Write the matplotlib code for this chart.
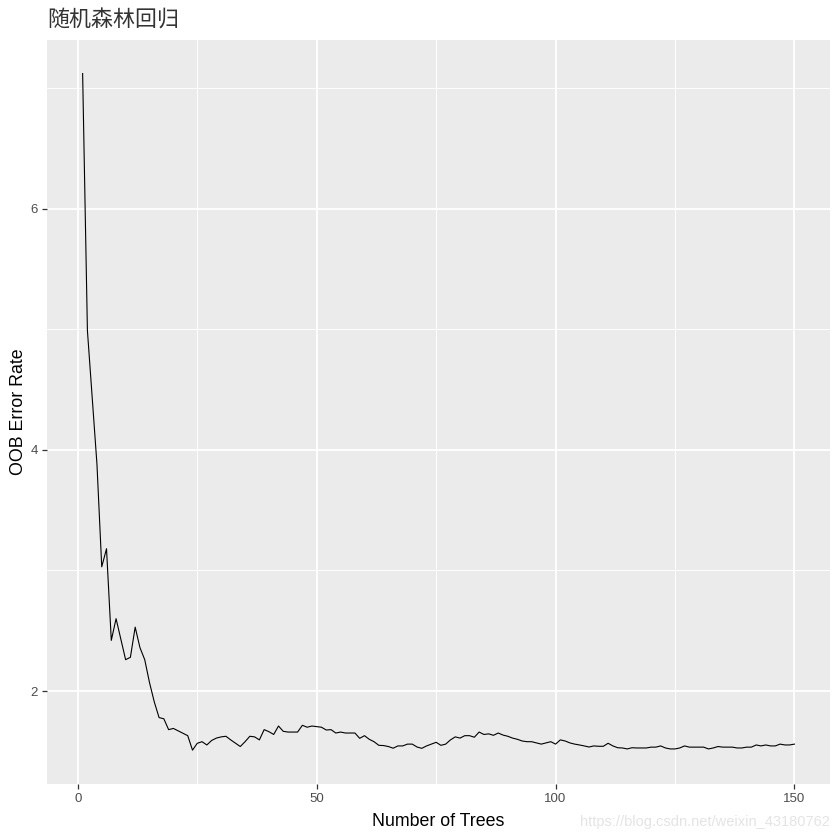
import matplotlib
matplotlib.use("Agg")
import matplotlib.pyplot as plt
from matplotlib.ticker import MultipleLocator
import numpy as np

plt.rcParams['font.family'] = ['Liberation Sans', 'Noto Sans CJK SC', 'DejaVu Sans']

trees = list(range(1, 151))
oob_error = [
    7.12, 4.99, 4.43, 3.88, 3.03, 3.18, 2.42, 2.60, 2.43, 2.26,
    2.28, 2.53, 2.36, 2.26, 2.07, 1.91, 1.78, 1.77, 1.68, 1.69,
    1.67, 1.65, 1.63, 1.51, 1.567, 1.58, 1.553, 1.59, 1.61, 1.62,
    1.625, 1.595, 1.567, 1.54, 1.58, 1.625, 1.62, 1.595, 1.68, 1.663,
    1.64, 1.71, 1.666, 1.66, 1.66, 1.66, 1.716, 1.70, 1.71, 1.705,
    1.70, 1.677, 1.68, 1.652, 1.66, 1.652, 1.652, 1.652, 1.608, 1.63,
    1.60, 1.58, 1.55, 1.548, 1.54, 1.526, 1.545, 1.545, 1.56, 1.56,
    1.536, 1.525, 1.545, 1.56, 1.575, 1.55, 1.56, 1.595, 1.62, 1.61,
    1.63, 1.63, 1.617, 1.66, 1.64, 1.645, 1.633, 1.652, 1.635, 1.625,
    1.61, 1.60, 1.586, 1.58, 1.58, 1.57, 1.56, 1.57, 1.58, 1.56,
    1.595, 1.586, 1.57, 1.56, 1.553, 1.545, 1.536, 1.545, 1.542, 1.542,
    1.567, 1.545, 1.53, 1.528, 1.52, 1.53, 1.528, 1.528, 1.528, 1.535,
    1.535, 1.545, 1.528, 1.52, 1.52, 1.528, 1.545, 1.535, 1.535, 1.535,
    1.535, 1.52, 1.528, 1.54, 1.535, 1.535, 1.535, 1.528, 1.528, 1.535,
    1.535, 1.553, 1.545, 1.553, 1.545, 1.545, 1.56, 1.553, 1.553, 1.56,
]

x_ticks = [0, 50, 100, 150]
y_ticks = [2, 4, 6]
title = "随机森林回归"
x_label = "Number of Trees"
y_label = "OOB Error Rate"

fig = plt.figure(figsize=(8.4, 8.4), dpi=100)
ax = fig.add_axes([0.0560, 0.0667, 0.9881 - 0.0560, 0.9527 - 0.0667])
ax.set_facecolor('#EBEBEB')

ax.plot(trees, oob_error, color='black', linewidth=0.8, zorder=3)
ax.margins(x=0.05, y=0.05)

ax.xaxis.set_minor_locator(MultipleLocator(25))
ax.yaxis.set_minor_locator(MultipleLocator(1))
ax.set_xticks(x_ticks)
ax.set_yticks(y_ticks)

ax.grid(which='major', color='white', linewidth=1.3)
ax.grid(which='minor', color='white', linewidth=0.65)
ax.set_axisbelow(True)

for s in ax.spines.values():
    s.set_visible(False)

ax.tick_params(which='major', length=3.5, width=0.9, color='#333333',
               labelsize=9.5, labelcolor='#4D4D4D', pad=3)
ax.tick_params(which='minor', length=0)

ax.set_xlabel(x_label, fontsize=12.8, color='black', va='center')
ax.set_ylabel(y_label, fontsize=12.8, color='black', va='center')
ax.xaxis.set_label_coords(0.5, -0.051)
ax.yaxis.set_label_coords(-0.037, 0.5)

fig.text(0.0560, 0.976, title, fontsize=15.8, color='#333333',
         family=['Noto Sans CJK SC', 'DejaVu Sans'], weight='light',
         ha='left', va='center')

fig.text(0.988, 0.021, "https://blog.csdn.net/weixin_43180762", fontsize=10.5,
         color='#E4E4E4', ha='right', va='center')

fig.savefig('out.png', dpi=100)
